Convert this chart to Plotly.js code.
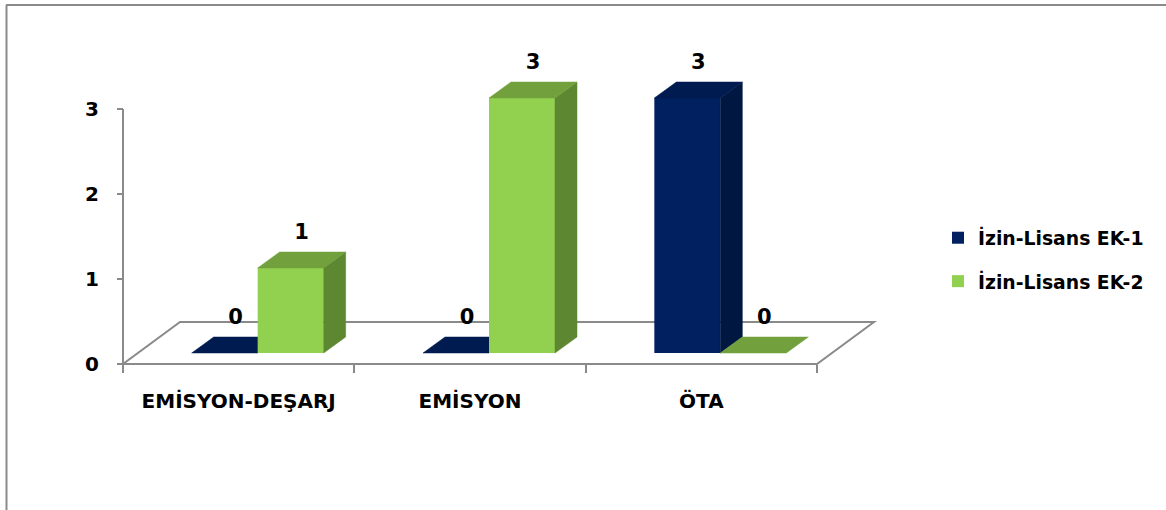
<!DOCTYPE html>
<html>
<head>
<meta charset="utf-8">
<script src="https://cdn.plot.ly/plotly-3.0.1.min.js"></script>
<style>
  html, body { margin: 0; padding: 0; background: #ffffff; }
  #chart { width: 1166px; height: 510px; }
</style>
</head>
<body>
<div id="chart"></div>
<script>
// ---- chart data ----
const categories = ['EMİSYON-DEŞARJ', 'EMİSYON', 'ÖTA'];
const seriesNames = ['İzin-Lisans EK-1', 'İzin-Lisans EK-2'];
const ek1 = [0, 0, 3];
const ek2 = [1, 3, 0];
const yTicks = [0, 1, 2, 3];

// ---- styling ----
const FONT = 'DejaVu Sans, Arial, sans-serif';
const GRAY = '#8a8a8a';
const palette = [
  { front: '#002060', top: '#001b50', side: '#001742' },
  { front: '#92d050', top: '#71a03d', side: '#5e8731' }
];

// ---- page geometry (pixels) ----
const W = 1166, H = 510;
const plotBox = { left: 110, right: 890, top: 30, bottom: 380 };
const axisOrigin = { x: 123, y: 364 };     // front-left corner of the floor
const unitX = 231.33, unitY = 85;          // pixels per category / per value unit

const xRange = [-0.5 - (axisOrigin.x - plotBox.left) / unitX,
                -0.5 + (plotBox.right - axisOrigin.x) / unitX];
const yRange = [-(plotBox.bottom - axisOrigin.y) / unitY,
                (axisOrigin.y - plotBox.top) / unitY];

// 3-D look: floor depth, bar placement and bar depth (converted to data units)
const floorDX = 57 / unitX, floorDY = 42 / unitY;
const barBase = 11 / unitY;
const groupShift = 19 / unitX;
const barW = 66 / unitX;
const barDX = 22 / unitX, barDY = 16 / unitY;
const labelLift = 18 / unitY;

const idx = categories.map((c, i) => i);
const seriesValues = [ek1, ek2];
const xAxisIds = ['x2', 'x3'];

function polyTrace(xs, ys, color, xaxis) {
  return {
    type: 'scatter', mode: 'lines', xaxis: xaxis, yaxis: 'y',
    x: xs, y: ys, fill: 'toself', fillcolor: color,
    line: { color: color, width: 0.5 },
    hoverinfo: 'skip', showlegend: false
  };
}

const traces = [];
// categories for the labelled axis
traces.push({
  type: 'scatter', mode: 'none', x: categories, y: categories.map(() => 0),
  xaxis: 'x', yaxis: 'y', hoverinfo: 'skip', showlegend: false
});

seriesValues.forEach((vals, s) => {
  const col = palette[s];
  const xa = xAxisIds[s];
  const offset = groupShift - barW + s * barW;

  // front faces
  traces.push({
    type: 'bar', name: seriesNames[s], xaxis: xa, yaxis: 'y',
    x: idx, y: vals, base: barBase, offset: offset, width: barW,
    marker: { color: col.front, line: { width: 0 } },
    legendgroup: 'g' + s, hoverinfo: 'skip'
  });

  // top and side faces
  const tx = [], ty = [], sx = [], sy = [];
  vals.forEach((v, i) => {
    const xl = i + offset, xr = xl + barW;
    const h = barBase + v;
    tx.push(xl, xr, xr + barDX, xl + barDX, xl, null);
    ty.push(h, h, h + barDY, h + barDY, h, null);
    if (v > 0) {
      sx.push(xr, xr + barDX, xr + barDX, xr, xr, null);
      sy.push(barBase, barBase + barDY, h + barDY, h, barBase, null);
    }
  });
  if (sx.length) traces.push(polyTrace(sx, sy, col.side, xa));
  traces.push(polyTrace(tx, ty, col.top, xa));
});

// value labels
seriesValues.forEach((vals, s) => {
  const offset = groupShift - barW + s * barW;
  traces.push({
    type: 'scatter', mode: 'text', xaxis: 'x3', yaxis: 'y',
    x: vals.map((v, i) => i + offset + barW / 2 + barDX / 2),
    y: vals.map(v => barBase + v + barDY + labelLift),
    text: vals.map(v => String(v)),
    textposition: 'middle center',
    textfont: { family: FONT, size: 21, color: '#000000', weight: 'bold' },
    cliponaxis: false, hoverinfo: 'skip', showlegend: false
  });
});

const plotW = plotBox.right - plotBox.left, plotH = plotBox.bottom - plotBox.top;
const paperX = px => (px - plotBox.left) / plotW;
const paperY = py => (plotBox.bottom - py) / plotH;
const nCat = categories.length;

const shapes = [
  // floor
  {
    type: 'path', xref: 'x2', yref: 'y', layer: 'below',
    path: `M ${-0.5} 0 L ${nCat - 0.5} 0 L ${nCat - 0.5 + floorDX} ${floorDY} ` +
          `L ${-0.5 + floorDX} ${floorDY} Z`,
    line: { color: GRAY, width: 2 }, fillcolor: '#ffffff'
  },
  // value axis line
  {
    type: 'line', xref: 'x2', yref: 'y', layer: 'above',
    x0: -0.5, x1: -0.5, y0: 0, y1: Math.max(...yTicks),
    line: { color: GRAY, width: 2 }
  },
  // chart area border
  {
    type: 'line', xref: 'paper', yref: 'paper',
    x0: paperX(6), x1: paperX(W), y0: paperY(5), y1: paperY(5),
    line: { color: GRAY, width: 2 }
  },
  {
    type: 'line', xref: 'paper', yref: 'paper',
    x0: paperX(6.5), x1: paperX(6.5), y0: paperY(5), y1: paperY(H),
    line: { color: GRAY, width: 2 }
  }
];

const tickFont = { family: FONT, size: 20, color: '#000000', weight: 'bold' };
const hiddenX = { overlaying: 'x', anchor: 'y', range: xRange, visible: false, fixedrange: true };

const layout = {
  width: W, height: H,
  margin: { l: plotBox.left, r: W - plotBox.right, t: plotBox.top, b: H - plotBox.bottom, pad: 0 },
  paper_bgcolor: '#ffffff', plot_bgcolor: 'rgba(0,0,0,0)',
  barmode: 'overlay',
  showlegend: true,
  xaxis: {
    type: 'category', categoryorder: 'array', categoryarray: categories,
    range: xRange, anchor: 'free', position: paperY(axisOrigin.y),
    tickson: 'boundaries', ticks: 'outside', ticklen: 8, tickwidth: 2, tickcolor: GRAY,
    showline: false, showgrid: false, zeroline: false,
    tickfont: tickFont, ticklabelstandoff: 23, fixedrange: true
  },
  xaxis2: hiddenX,
  xaxis3: Object.assign({}, hiddenX),
  yaxis: {
    range: yRange, anchor: 'free', position: paperX(axisOrigin.x),
    tickmode: 'array', tickvals: yTicks, ticktext: yTicks.map(String),
    ticks: 'outside', ticklen: 6, tickwidth: 2, tickcolor: GRAY,
    showline: false, showgrid: false, zeroline: false,
    tickfont: tickFont, ticklabelstandoff: 14, fixedrange: true
  },
  legend: {
    xref: 'container', yref: 'container',
    x: 938 / W, y: 1 - 219 / H, xanchor: 'left', yanchor: 'top',
    font: { family: FONT, size: 18.8, color: '#000000', weight: 'bold' },
    traceorder: 'grouped', tracegroupgap: 16,
    bgcolor: 'rgba(0,0,0,0)', borderwidth: 0
  },
  shapes: shapes,
  hovermode: false
};

Plotly.newPlot('chart', traces, layout, { staticPlot: true, displayModeBar: false });
</script>
</body>
</html>
